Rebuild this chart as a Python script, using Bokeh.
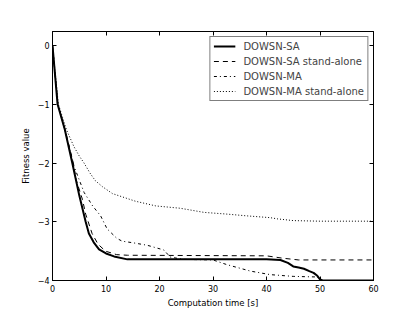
from bokeh.plotting import figure
from bokeh.models import Range1d, LinearAxis, FixedTicker, Legend, LegendItem
from bokeh.embed import file_html
from bokeh.resources import INLINE

# Data
sa_t = [0, 0.95, 2.3, 3.7, 5, 6.2, 6.8, 7.7, 8.7, 10, 11.5, 14, 40, 42.6, 44, 45, 46, 47, 48, 48.8, 49.5, 50, 50.5, 60]
sa_v = [0, -1.0, -1.43, -2.0, -2.55, -3.0, -3.2, -3.35, -3.47, -3.54, -3.59, -3.64, -3.64, -3.65, -3.7, -3.76, -3.78, -3.8, -3.84, -3.87, -3.92, -3.98, -4.0, -4.0]

sas_t = [0, 1.0, 2.4, 3.9, 4.4, 5.6, 6.2, 7.4, 8.5, 9.9, 12, 14, 40, 43, 46, 60]
sas_v = [0, -1.0, -1.45, -2.0, -2.28, -2.62, -2.87, -3.2, -3.38, -3.5, -3.56, -3.57, -3.58, -3.62, -3.65, -3.65]

ma_t = [0, 1.0, 2.4, 4, 5.9, 7.5, 9, 10.2, 12, 13, 15.2, 17.7, 20.8, 22, 24.4, 30, 32.6, 35, 37, 40.7, 45, 49.5, 50, 60]
ma_v = [0, -1.0, -1.47, -2.05, -2.5, -2.73, -2.9, -3.12, -3.28, -3.33, -3.36, -3.4, -3.48, -3.6, -3.64, -3.65, -3.73, -3.79, -3.84, -3.9, -3.93, -3.94, -4.0, -4.0]

mas_t = [0, 1.1, 2.6, 4, 5, 5.9, 7, 8, 9.3, 11.2, 15.5, 19.3, 23.9, 28.3, 32.7, 36.4, 40.7, 42, 45, 50, 60]
mas_v = [0, -1.0, -1.43, -1.72, -1.88, -2.0, -2.17, -2.3, -2.4, -2.52, -2.65, -2.73, -2.77, -2.84, -2.87, -2.9, -2.93, -2.95, -2.98, -2.99, -2.99]

labels = ["DOWSN-SA", "DOWSN-SA stand-alone", "DOWSN-MA", "DOWSN-MA stand-alone"]
x_ticks = [0, 10, 20, 30, 40, 50, 60]
y_ticks = [0, -1, -2, -3, -4]
y_tick_labels = ["0", "\u22121", "\u22122", "\u22123", "\u22124"]

FONT = "DejaVu Sans"

p = figure(width=415, height=312, output_backend="svg", toolbar_location=None,
           x_range=Range1d(0, 60), y_range=Range1d(-4, 0.24),
           min_border_left=52, min_border_right=42, min_border_top=31, min_border_bottom=32)
p.xgrid.visible = False
p.ygrid.visible = False
p.outline_line_color = "black"
p.outline_line_width = 1
p.background_fill_color = "white"
p.border_fill_color = "white"

def style_axis(ax, show_labels=True):
    ax.axis_line_color = "black"
    ax.major_tick_in = 4
    ax.major_tick_out = 0
    ax.minor_tick_line_color = None
    ax.major_label_text_font = FONT
    ax.axis_label_text_font = FONT
    ax.axis_label_text_font_style = "normal"
    ax.major_label_text_color = "black"
    ax.axis_label_text_color = "black"
    ax.major_label_text_font_size = "8px"
    ax.axis_label_text_font_size = "8.5px"
    if not show_labels:
        ax.major_label_text_color = None
        ax.major_label_standoff = 0

p.xaxis.ticker = FixedTicker(ticks=x_ticks)
p.yaxis.ticker = FixedTicker(ticks=y_ticks)
p.yaxis.major_label_overrides = {t: l for t, l in zip(y_ticks, y_tick_labels)}
for ax in p.xaxis + p.yaxis:
    style_axis(ax)
p.xaxis.axis_label = "Computation time [s]"
p.yaxis.axis_label = "Fitness value"
p.xaxis.major_label_standoff = 4
p.xaxis.axis_label_standoff = 3
p.yaxis.major_label_standoff = 3
p.yaxis.axis_label_standoff = 4

top = LinearAxis(ticker=FixedTicker(ticks=x_ticks))
style_axis(top, False)
p.add_layout(top, "above")
right = LinearAxis(ticker=FixedTicker(ticks=y_ticks))
style_axis(right, False)
p.add_layout(right, "right")

r1 = p.line(sa_t, sa_v, line_color="black", line_width=2)
r2 = p.line(sas_t, sas_v, line_color="black", line_width=1, line_dash="5 4")
r3 = p.line(ma_t, ma_v, line_color="black", line_width=1, line_dash="3 3 1 3")
r4 = p.line(mas_t, mas_v, line_color="black", line_width=1, line_dash="1 2")

legend = Legend(items=[LegendItem(label=l, renderers=[r]) for l, r in zip(labels, [r1, r2, r3, r4])],
                location="top_right")
legend.margin = 5
legend.padding = 3
legend.spacing = 3
legend.glyph_width = 22
legend.glyph_height = 12
legend.label_height = 12
legend.label_standoff = 8
legend.label_text_font = FONT
legend.label_text_font_size = "10px"
legend.border_line_color = "black"
legend.border_line_width = 1
legend.background_fill_alpha = 1
p.add_layout(legend)

open("out.html", "w").write(file_html(p, INLINE))
